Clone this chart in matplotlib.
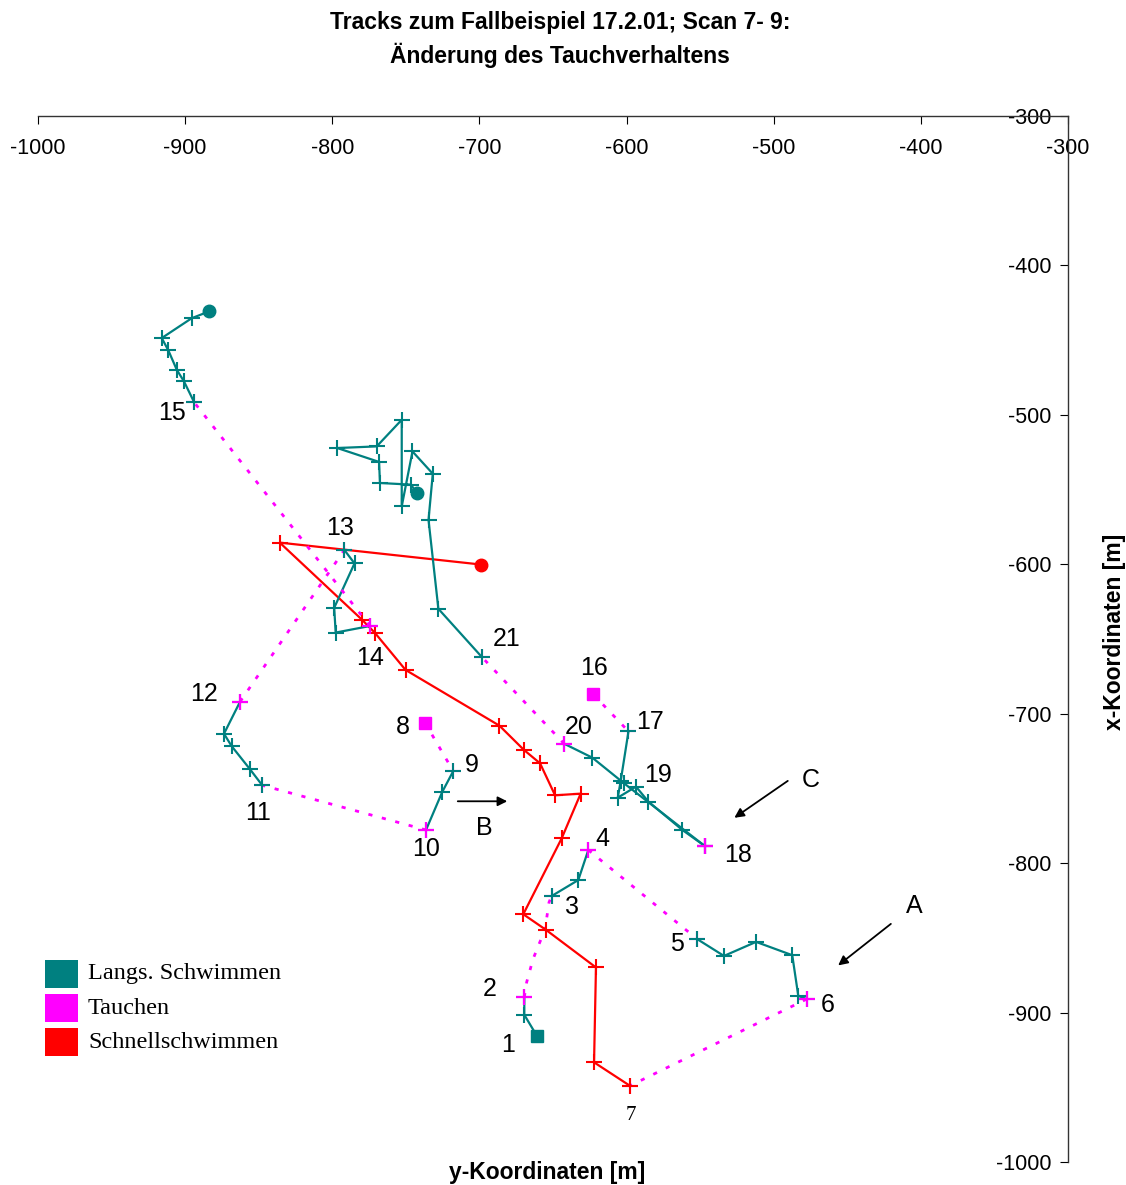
import matplotlib.pyplot as plt
from matplotlib.patches import Rectangle

TEAL = "#008080"
MAGENTA = "#ff00ff"
RED = "#ff0000"
state_colors = {"L": TEAL, "T": MAGENTA, "S": RED}

# L = langsames Schwimmen, T = Tauchen, S = Schnellschwimmen (state of segment i -> i+1)
# track 1 .. 7, then fast swimming
track_a_x = [-660.7, -669.5, -669.5, -667.9, -663.6, -655.4, -652.7, -650.9, -632.8, -626.0,
             -551.9, -533.8, -512.0, -487.4, -483.3, -477.6, -597.7, -622.1, -620.8, -654.7,
             -670.2, -644.1, -631.2, -648.6, -658.8, -669.9, -686.4, -750.2, -771.2, -779.7,
             -835.7, -698.7]
track_a_y = [-916.0, -901.5, -889.7, -879.7, -864.3, -844.2, -826.2, -822.0, -811.3, -791.2,
             -850.9, -862.1, -852.7, -861.6, -888.8, -891.0, -949.0, -933.3, -869.8, -844.7,
             -834.2, -783.4, -753.5, -754.6, -733.2, -724.1, -708.0, -670.7, -645.7, -637.2,
             -585.5, -600.2]
track_a_states = "LLTTTTTLLTLLLLLTSSSSSSSSSSSSSSS"

# track 8 .. 15
track_b_x = [-737.0, -717.8, -725.2, -736.3, -847.6, -855.9, -868.4, -873.6, -862.7, -791.8,
             -784.9, -798.7, -797.7, -774.4, -893.8, -900.8, -905.7, -911.4, -915.9, -895.5,
             -883.8]
track_b_y = [-706.0, -738.4, -752.2, -777.8, -747.9, -737.2, -721.7, -713.4, -692.0, -590.4,
             -599.4, -629.1, -645.7, -641.3, -491.7, -477.6, -469.8, -456.9, -448.6, -435.3,
             -430.8]
track_b_states = "TLLTLLLLTLLLLTLLLLLL"

# track 16 .. 21
track_c_x = [-622.6, -598.7, -604.0, -606.0, -593.6, -585.2, -562.1, -547.0, -547.0, -601.7,
             -623.3, -642.4, -698.4, -727.9, -734.6, -731.7, -745.5, -752.8, -752.8, -769.8,
             -796.6, -768.2, -767.6, -746.5, -742.6]
track_c_y = [-687.1, -711.8, -745.1, -756.2, -748.8, -758.8, -777.8, -788.4, -788.4, -746.6,
             -729.4, -720.1, -662.0, -629.8, -570.3, -539.4, -524.5, -561.2, -503.3, -521.1,
             -522.2, -531.5, -545.6, -546.7, -552.3]
track_c_states = "TLLLLLLTLLLTLLLLLLLLLLLL"

point_labels = [str(i) for i in range(1, 22)]
label_x = [-680.6, -692.8, -637.1, -616.7, -565.7, -463.1, -597.0, -751.9, -705.0, -736.3,
           -850.5, -887.2, -794.8, -774.4, -908.9, -622.1, -584.1, -524.3, -578.6, -632.3,
           -681.3]
label_y = [-921.8, -884.3, -829.5, -784.1, -854.3, -895.0, -969.2, -709.2, -734.6, -790.7,
           -766.7, -687.1, -575.5, -662.4, -498.6, -669.1, -705.8, -794.7, -741.3, -709.2,
           -650.3]

arrow_names = ["A", "B", "C"]
arrow_tail = [(-418.9, -839.5), (-716.6, -758.6), (-488.9, -743.9)]
arrow_head = [(-457.7, -869.6), (-679.2, -758.6), (-528.3, -770.7)]
arrow_text = [(-404.6, -828.8), (-696.9, -776.7), (-474.6, -744.6)]

legend_labels = ["Langs. Schwimmen", "Tauchen", "Schnellschwimmen"]
legend_colors = [TEAL, MAGENTA, RED]

ticks = [-1000, -900, -800, -700, -600, -500, -400, -300]

plt.rcParams["font.family"] = ["Liberation Sans", "DejaVu Sans"]

fig = plt.figure(figsize=(11.26, 11.85), dpi=100)
ax = fig.add_axes([38 / 1126, 23 / 1185, 1030 / 1126, 1046 / 1185])


def draw_track(xs, ys, states):
    n = len(xs)
    runs = []
    start = 0
    for i in range(1, len(states)):
        if states[i] != states[start]:
            runs.append((states[start], start, i))
            start = i
    runs.append((states[start], start, len(states)))

    for st, s, e in runs:
        px = xs[s:e + 1]
        py = ys[s:e + 1]
        c = state_colors[st]
        if st == "T":
            ax.plot(px, py, color=c, lw=2, ls=(0, (1.5, 3.5)))
            mk = [0, len(px) - 1]
        else:
            ax.plot(px, py, color=c, lw=1.6)
            mk = list(range(len(px)))
        keep = [k for k in mk if (s + k) not in (0, n - 1)]
        ax.plot([px[k] for k in keep], [py[k] for k in keep], ls="none",
                marker="+", ms=11, mew=1.5, color=c)

    # dive starts on top
    dive_start = [i for i in range(1, len(states)) if states[i] == "T" and states[i - 1] != "T"]
    ax.plot([xs[i] for i in dive_start], [ys[i] for i in dive_start], ls="none",
            marker="+", ms=11, mew=1.5, color=MAGENTA)

    ax.plot(xs[0], ys[0], marker="s", ms=8.5, color=state_colors[states[0]], ls="none")
    ax.plot(xs[-1], ys[-1], marker="o", ms=9, color=state_colors[states[-1]], ls="none")


draw_track(track_a_x, track_a_y, track_a_states)
draw_track(track_b_x, track_b_y, track_b_states)
draw_track(track_c_x, track_c_y, track_c_states)

for lab, x, y in zip(point_labels, label_x, label_y):
    if lab == "7":
        ax.text(x, y, lab, ha="center", va="center", fontsize=15, family="Liberation Serif")
    else:
        ax.text(x, y, lab, ha="center", va="center", fontsize=18)

for name, t, h, p in zip(arrow_names, arrow_tail, arrow_head, arrow_text):
    ax.annotate("", xy=h, xytext=t,
                arrowprops=dict(arrowstyle="-|>", color="black", lw=1.3, mutation_scale=14))
    ax.text(p[0], p[1], name, ha="center", va="center", fontsize=18)

ax.set_xlim(-1000, -300)
ax.set_ylim(-1000, -300)
ax.spines["bottom"].set_position(("data", -300))
ax.spines["left"].set_position(("data", -300))
ax.spines["top"].set_visible(False)
ax.spines["right"].set_visible(False)
for sp in ("bottom", "left"):
    ax.spines[sp].set_linewidth(1.0)
    ax.spines[sp].set_color("#333333")
ax.set_xticks(ticks)
ax.set_yticks(ticks)
ax.set_xticklabels([str(t) for t in ticks])
ax.set_yticklabels([str(t) for t in ticks])
ax.tick_params(axis="x", direction="out", length=6, width=0.8, pad=10, labelsize=15.5)
ax.tick_params(axis="y", direction="out", length=6, width=0.8, pad=6, labelsize=15.5)
ax.patch.set_visible(False)

fig.text(560 / 1126, 1 - 22 / 1185, "Tracks zum Fallbeispiel 17.2.01; Scan 7- 9:",
         ha="center", va="center", fontsize=16.5, fontweight="bold")
fig.text(560 / 1126, 1 - 55 / 1185, "Änderung des Tauchverhaltens",
         ha="center", va="center", fontsize=16.5, fontweight="bold")
fig.text(547 / 1126, 1 - 1172 / 1185, "y-Koordinaten [m]",
         ha="center", va="center", fontsize=16.5, fontweight="bold")
fig.text(1115 / 1126, 1 - 632 / 1185, "x-Koordinaten [m]", rotation=90,
         ha="center", va="center", fontsize=16.5, fontweight="bold")

# legend
for k, (lab, col) in enumerate(zip(legend_labels, legend_colors)):
    yc = 974 + 34 * k
    fig.add_artist(Rectangle((45 / 1126, 1 - (yc + 14) / 1185), 33 / 1126, 28 / 1185,
                             transform=fig.transFigure, facecolor=col, edgecolor="none"))
    fig.text(88 / 1126, 1 - yc / 1185, lab, ha="left", va="center", fontsize=17.5,
             family="Liberation Serif")

fig.savefig("out.png", dpi=100)
